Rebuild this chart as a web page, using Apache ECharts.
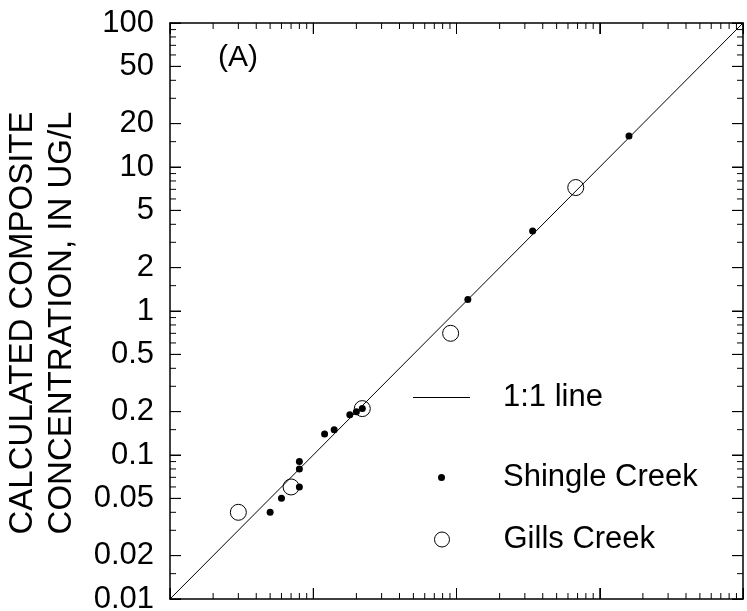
<!DOCTYPE html>
<html>
<head>
<meta charset="utf-8">
<script src="https://cdn.jsdelivr.net/npm/echarts@6/dist/echarts.min.js"></script>
<style>
  html, body { margin: 0; padding: 0; background: #fff; }
  #chart { width: 747px; height: 611px; }
</style>
</head>
<body>
<div id="chart"></div>
<script>
var FONT = 'Liberation Sans, Arial, Helvetica, sans-serif';

// measured vs calculated, ug/L
var shingleX = [0.05, 0.06, 0.08, 0.08, 0.08, 0.12, 0.14, 0.18, 0.20, 0.22, 1.2, 3.4, 16];
var shingleY = [0.04, 0.05, 0.06, 0.08, 0.09, 0.14, 0.15, 0.19, 0.20, 0.21, 1.2, 3.6, 16.4];
var gillsX = [0.03, 0.07, 0.22, 0.91, 6.8];
var gillsY = [0.04, 0.06, 0.21, 0.70, 7.2];
var oneToOne = [0.01, 100];

// tick positions
var yLabels = [0.01, 0.02, 0.05, 0.1, 0.2, 0.5, 1, 2, 5, 10, 20, 50, 100];
var yShortTicks = [0.015, 0.03, 0.04, 0.06, 0.07, 0.08, 0.09,
                   0.15, 0.3, 0.4, 0.6, 0.7, 0.8, 0.9,
                   1.5, 3, 4, 6, 7, 8, 9,
                   15, 30, 40, 60, 70, 80, 90];
var xLongTicks = [0.01, 0.1, 1, 10, 100];
var xShortTicks = [0.02, 0.03, 0.04, 0.05, 0.06, 0.07, 0.08, 0.09,
                   0.2, 0.3, 0.4, 0.5, 0.6, 0.7, 0.8, 0.9,
                   2, 3, 4, 5, 6, 7, 8, 9,
                   20, 30, 40, 50, 60, 70, 80, 90];

var AXMIN = 0.01, AXMAX = 100;
var LONG = 11, SHORT = 6;

function zip(a, b) {
    return a.map(function (v, i) { return [v, b[i]]; });
}

function logAxis(pos, ticks, extra) {
    var ax = {
        type: 'log',
        logBase: 10,
        min: AXMIN,
        max: AXMAX,
        position: pos,
        axisLine: { show: true, onZero: false, lineStyle: { color: '#000', width: 1.5 } },
        axisTick: { show: true, inside: true, length: LONG, customValues: ticks,
            lineStyle: { color: '#000', width: 1 } },
        axisLabel: { show: false },
        splitLine: { show: false },
        minorTick: { show: false }
    };
    for (var k in extra) ax[k] = extra[k];
    return ax;
}

// tick marks drawn as thin rect symbols sitting on the frame, pointing inward
function tickSeries(data, size, offset) {
    return {
        type: 'scatter',
        data: data,
        symbol: 'rect',
        symbolSize: size,
        symbolOffset: offset,
        itemStyle: { color: '#000', opacity: 1 },
        emphasis: { disabled: true },
        silent: true,
        clip: false,
        z: 5
    };
}

function onLeft(vals) { return vals.map(function (v) { return [AXMIN, v]; }); }
function onRight(vals) { return vals.map(function (v) { return [AXMAX, v]; }); }
function onBottom(vals) { return vals.map(function (v) { return [v, AXMIN]; }); }
function onTop(vals) { return vals.map(function (v) { return [v, AXMAX]; }); }

var chart = echarts.init(document.getElementById('chart'));

var option = {
    animation: false,
    title: {
        text: '(A)',
        left: 213,
        top: 38,
        textStyle: { fontFamily: FONT, fontSize: 30, fontWeight: 'normal', color: '#000' }
    },
    grid: { left: 170, right: 4, top: 23, bottom: 12, outerBoundsMode: 'none' },
    xAxis: [
        logAxis('bottom', xLongTicks),
        logAxis('top', xLongTicks)
    ],
    yAxis: [
        logAxis('left', yLabels, {
            name: 'CALCULATED COMPOSITE\nCONCENTRATION, IN UG/L',
            nameLocation: 'middle',
            nameRotate: 90,
            nameGap: 89,
            nameTextStyle: { fontFamily: FONT, fontSize: 33, color: '#000', lineHeight: 39,
                padding: [0, 24, 0, 0] },
            axisLabel: {
                show: true,
                customValues: yLabels,
                margin: 16,
                fontFamily: FONT,
                fontSize: 31,
                color: '#000',
                formatter: function (v) { return String(+v.toPrecision(3)); }
            }
        }),
        logAxis('right', yLabels)
    ],
    legend: [
        {
            data: [{ name: '1:1 line', icon: 'rect', itemStyle: { color: '#000' } }],
            left: 413, top: 382, padding: 0,
            itemWidth: 57, itemHeight: 1,
            textStyle: { fontFamily: FONT, fontSize: 31, color: '#000', padding: [0, 0, 0, 28] }
        },
        {
            data: [{ name: 'Shingle Creek', icon: 'circle', itemStyle: { color: '#000' } }],
            left: 438, top: 462, padding: 0,
            itemWidth: 57, itemHeight: 7,
            textStyle: { fontFamily: FONT, fontSize: 31, color: '#000', padding: [0, 0, 0, 28] }
        },
        {
            data: [{ name: 'Gills Creek', icon: 'circle',
                itemStyle: { color: 'rgba(255,255,255,0)', borderColor: '#000', borderWidth: 1 } }],
            left: 434, top: 524, padding: 0,
            itemWidth: 57, itemHeight: 15,
            textStyle: { fontFamily: FONT, fontSize: 31, color: '#000', padding: [0, 0, 0, 28] }
        }
    ],
    series: [
        tickSeries(onLeft(yLabels), [LONG, 1], [LONG / 2, 0]),
        tickSeries(onRight(yLabels), [LONG, 1], [-LONG / 2, 0]),
        tickSeries(onLeft(yShortTicks), [SHORT, 1], [SHORT / 2, 0]),
        tickSeries(onRight(yShortTicks), [SHORT, 1], [-SHORT / 2, 0]),
        tickSeries(onBottom(xLongTicks), [1, LONG], [0, -LONG / 2]),
        tickSeries(onTop(xLongTicks), [1, LONG], [0, LONG / 2]),
        tickSeries(onBottom(xShortTicks), [1, SHORT], [0, -SHORT / 2]),
        tickSeries(onTop(xShortTicks), [1, SHORT], [0, SHORT / 2]),
        {
            name: '1:1 line',
            type: 'line',
            data: zip(oneToOne, oneToOne),
            showSymbol: false,
            symbol: 'none',
            itemStyle: { color: '#000' },
            lineStyle: { color: '#000', width: 1 },
            z: 2
        },
        {
            name: 'Shingle Creek',
            type: 'scatter',
            data: zip(shingleX, shingleY),
            symbol: 'circle',
            symbolSize: 7,
            itemStyle: { color: '#000', opacity: 1 },
            z: 4
        },
        {
            name: 'Gills Creek',
            type: 'scatter',
            data: zip(gillsX, gillsY),
            symbol: 'circle',
            symbolSize: 16,
            itemStyle: { color: 'rgba(255,255,255,0)', borderColor: '#000', borderWidth: 1, opacity: 1 },
            z: 3
        }
    ]
};

chart.setOption(option);
</script>
</body>
</html>
